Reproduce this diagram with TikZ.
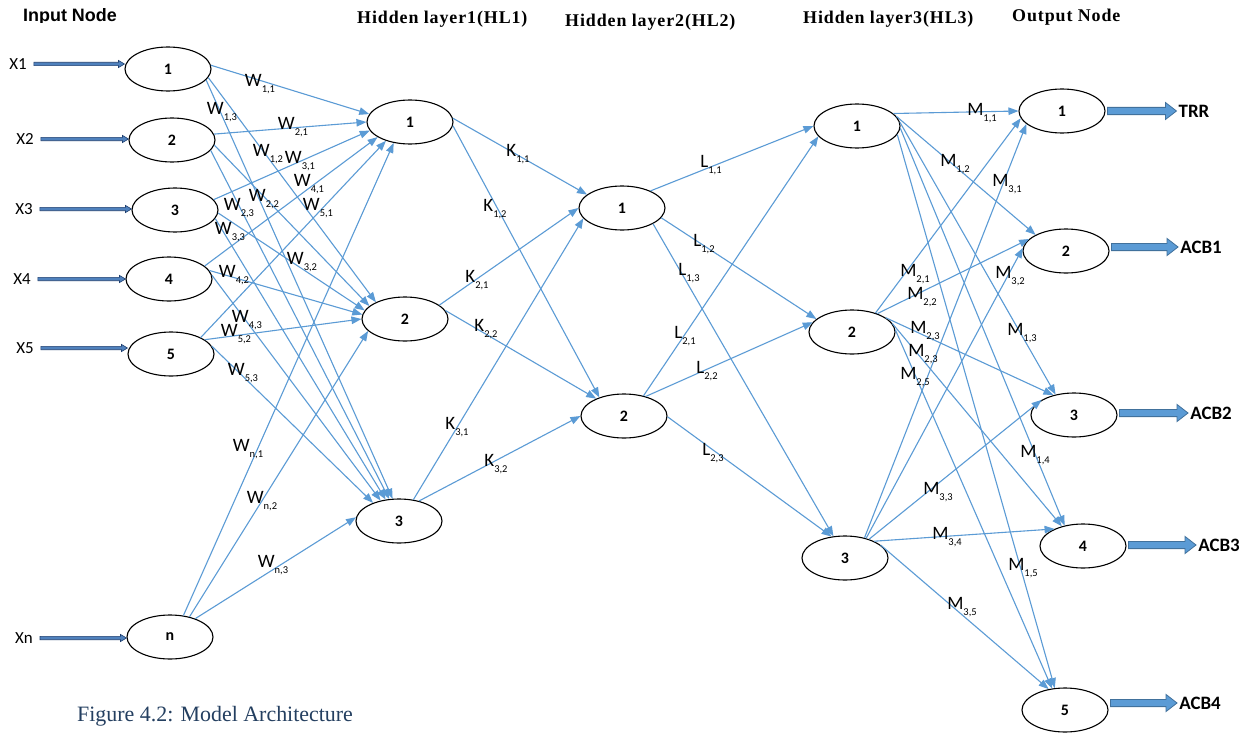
\documentclass[tikz,border=0pt]{standalone}
\usepackage{fontspec}
\setmainfont{Liberation Serif}
\newfontfamily\calfont{Carlito}
\newfontfamily\arialfont{Liberation Sans}
\newfontfamily\titlefont[LetterSpace=5]{Liberation Serif}
\usetikzlibrary{arrows.meta,shapes.geometric,calc}
\definecolor{lineblue}{HTML}{5B9BD5}
\definecolor{outedge}{HTML}{41719C}
\definecolor{infill}{HTML}{4F81BD}
\definecolor{inedge}{HTML}{1F3F6F}
\definecolor{capcol}{HTML}{243F60}
\newcommand\wl[2]{{\calfont\fontsize{19}{19}\selectfont #1\raisebox{-6bp}{\fontsize{10.5}{10.5}\selectfont #2}}}
\newcommand\blockarr[6]{%
  \filldraw[#1] ($(#2)+(0,#4)$) -- ($(#3)+(-#6,#4)$) -- ($(#3)+(-#6,#5)$) -- (#3)
    -- ($(#3)+(-#6,-#5)$) -- ($(#3)+(-#6,-#4)$) -- ($(#2)+(0,-#4)$) -- cycle;}
\tikzset{
  neuron/.style={ellipse, draw=black, line width=1.1bp, minimum width=86bp, minimum height=44bp,
    inner sep=0pt, font=\calfont\bfseries\fontsize{16}{16}\selectfont},
  con/.style={draw=lineblue, line width=1.1bp, -{Triangle[length=10bp,width=7.5bp]}},
  lbl/.style={inner sep=0pt, text=black},
  xlbl/.style={inner sep=0pt, font=\calfont\fontsize{17}{17}\selectfont},
  outlbl/.style={inner sep=0pt, font=\calfont\bfseries\fontsize{19}{19}\selectfont},
  title/.style={inner sep=0pt, anchor=base west, font=\titlefont\bfseries\fontsize{18}{18}\selectfont},
  inarr/.style={fill=infill, draw=inedge, line width=0.6bp},
  outarr/.style={fill=lineblue, draw=outedge, line width=0.8bp}
}
\begin{document}
\begin{tikzpicture}[x=1bp, y=-1bp]
\useasboundingbox (0,0) rectangle (1244,737);
\fill[white] (0,0) rectangle (1244,737);

% titles
\begin{scope}
  \clip (0,0) rectangle (200,22.3);
  \node[title, font=\arialfont\bfseries\fontsize{18}{18}\selectfont] (tin) at (23,22) {Input Node};
\end{scope}
\node[title] (thl1) at (357,24) {Hidden layer1(HL1)};
\node[title] (thl2) at (565,27) {Hidden layer2(HL2)};
\node[title] (thl3) at (803,24) {Hidden layer3(HL3)};
\node[title] (tout) at (1012,22) {Output Node};
\node[inner sep=0pt, anchor=base west, text=capcol, font=\fontsize{22}{22}\selectfont] (cap) at (77,721) {Figure 4.2: Model Architecture};

% neurons
\node[neuron] (i1) at (168,69) {1};
\node[neuron] (i2) at (172,140) {2};
\node[neuron] (i3) at (175,210) {3};
\node[neuron] (i4) at (169,279) {4};
\node[neuron] (i5) at (171,354) {5};
\node[neuron] (in) at (170,637) {n};
\node[neuron] (h1a) at (410,122) {1};
\node[neuron] (h1b) at (405,319) {2};
\node[neuron] (h1c) at (399,521) {3};
\node[neuron] (h2a) at (622,208) {1};
\node[neuron] (h2b) at (624,416) {2};
\node[neuron] (h3a) at (857,126) {1};
\node[neuron] (h3b) at (852,332) {2};
\node[neuron] (h3c) at (845,558) {3};
\node[neuron] (o1) at (1062,111) {1};
\node[neuron] (o2) at (1066,251) {2};
\node[neuron] (o3) at (1074,415) {3};
\node[neuron] (o4) at (1083,546) {4};
\node[neuron] (o5) at (1065,710) {5};

% input labels and arrows
\node[xlbl] (x1) at (18,64) {X1};
\node[xlbl] (x2) at (25,139) {X2};
\node[xlbl] (x3) at (24,209) {X3};
\node[xlbl] (x4) at (22,279) {X4};
\node[xlbl] (x5) at (25,348) {X5};
\node[xlbl] (xn) at (24,638) {Xn};
\foreach \a/\b in {x1/i1,x2/i2,x3/i3,x4/i4,x5/i5,xn/in}{
  \coordinate (\a s) at ($(\a.east)+(7,0)$);
  \coordinate (\a e) at (\b.west |- \a.east);
  \blockarr{inarr}{\a s}{\a e}{1.7}{3.6}{6}
}

% output labels and arrows
\node[outlbl] (trr) at (1194,111) {TRR};
\node[outlbl] (acb1) at (1201,247) {ACB1};
\node[outlbl] (acb2) at (1211,413) {ACB2};
\node[outlbl] (acb3) at (1219,545) {ACB3};
\node[outlbl] (acb4) at (1200,703) {ACB4};
\foreach \a/\b in {o1/trr,o2/acb1,o3/acb2,o4/acb3,o5/acb4}{
  \coordinate (\b s) at ($(\a.east |- \b.west)+(2,0)$);
  \coordinate (\b e) at ($(\b.west)+(-2,0)$);
  \blockarr{outarr}{\b s}{\b e}{3.6}{8.5}{11}
}

% input -> HL1
\draw[con] (i1.5) -- (h1a.169);
\draw[con] (i1.-12) -- (h1b.150);
\draw[con] (i1.-16) -- (h1c.106);
\draw[con] (i2.8) -- (h1a.180);
\draw[con] (i2.-7) -- (h1b.160);
\draw[con] (i2.-15) -- (h1c.114);
\draw[con] (i3.15) -- (h1a.192);
\draw[con] (i3.-4) -- (h1b.168);
\draw[con] (i3.-12) -- (h1c.122);
\draw[con] (i4.20) -- (h1a.205);
\draw[con] (i4.12) -- (h1b.174);
\draw[con] (i4.5) -- (h1c.132);
\draw[con] (i5.29) -- (h1a.218);
\draw[con] (i5.23) -- (h1b.180);
\draw[con] (i5.11) -- (h1c.145);
\draw[con] (in.58) -- (h1a.232);
\draw[con] (in.46) -- (h1b.198);
\draw[con] (in.36) -- (h1c.175);

% HL1 -> HL2
\draw[con] (h1a.5) -- (h2a.159);
\draw[con] (h1a.-5) -- (h2b.143);
\draw[con] (h1b.22) -- (h2a.180);
\draw[con] (h1b.12) -- (h2b.148);
\draw[con] (h1c.56) -- (h2a.195);
\draw[con] (h1c.45) -- (h2b.180);

% HL2 -> HL3
\draw[con] (h2a.31) -- (h3a.180);
\draw[con] (h2a.-14) -- (h3b.160);
\draw[con] (h2a.-27) -- (h3c.118);
\draw[con] (h2b.46) -- (h3a.195);
\draw[con] (h2b.42) -- (h3b.166);
\draw[con] (h2b.-1) -- (h3c.122);

% HL3 -> output
\draw[con] (h3a.19) -- (o1.180);
\draw[con] (h3a.14) -- (o2.152);
\draw[con] (h3a.5) -- (o3.132);
\draw[con] (h3a.-3) -- (o4.132);
\draw[con] (h3a.-12) -- (o5.115);
\draw[con] (h3b.39) -- (o1.190);
\draw[con] (h3b.36) -- (o2.162);
\draw[con] (h3b.23) -- (o3.136);
\draw[con] (h3b.12) -- (o4.137);
\draw[con] (h3b.3) -- (o5.121);
\draw[con] (h3c.46) -- (o1.200);
\draw[con] (h3c.43) -- (o2.176);
\draw[con] (h3c.38) -- (o3.155);
\draw[con] (h3c.30) -- (o4.149);
\draw[con] (h3c.20) -- (o5.128);

% weight labels
\node[lbl] (w11) at (260,84) {\wl{W}{1,1}};
\node[lbl] (w13) at (222,112) {\wl{W}{1,3}};
\node[lbl] (w21) at (293,127) {\wl{W}{2,1}};
\node[lbl] (w12) at (268,154) {\wl{W}{1,2}};
\node[lbl] (w31) at (300,161) {\wl{W}{3,1}};
\node[lbl] (w41) at (309,184) {\wl{W}{4,1}};
\node[lbl] (w22) at (264,199) {\wl{W}{2,2}};
\node[lbl] (w51) at (318,208) {\wl{W}{5,1}};
\node[lbl] (w23) at (239,208) {\wl{W}{2,3}};
\node[lbl] (w33) at (230,232) {\wl{W}{3,3}};
\node[lbl] (w32) at (302,262) {\wl{W}{3,2}};
\node[lbl] (w42) at (234,275) {\wl{W}{4,2}};
\node[lbl] (w43) at (247,320) {\wl{W}{4,3}};
\node[lbl] (w52) at (236,334) {\wl{W}{5,2}};
\node[lbl] (w53) at (243,373) {\wl{W}{5,3}};
\node[lbl] (wn1) at (248,449) {\wl{W}{n,1}};
\node[lbl] (wn2) at (262,501) {\wl{W}{n,2}};
\node[lbl] (wn3) at (273,565) {\wl{W}{n,3}};

\node[lbl] (k11) at (518,154) {\wl{K}{1,1}};
\node[lbl] (k12) at (495,209) {\wl{K}{1,2}};
\node[lbl] (k21) at (477,280) {\wl{K}{2,1}};
\node[lbl] (k22) at (486,329) {\wl{K}{2,2}};
\node[lbl] (k31) at (457,427) {\wl{K}{3,1}};
\node[lbl] (k32) at (496,464) {\wl{K}{3,2}};

\node[lbl] (l11) at (711,165) {\wl{L}{1,1}};
\node[lbl] (l12) at (704,244) {\wl{L}{1,2}};
\node[lbl] (l13) at (689,273) {\wl{L}{1,3}};
\node[lbl] (l21) at (685,336) {\wl{L}{2,1}};
\node[lbl] (l22) at (707,371) {\wl{L}{2,2}};
\node[lbl] (l23) at (713,453) {\wl{L}{2,3}};

\node[lbl] (m11) at (982,113) {\wl{M}{1,1}};
\node[lbl] (m12) at (955,164) {\wl{M}{1,2}};
\node[lbl] (m31) at (1007,184) {\wl{M}{3,1}};
\node[lbl] (m32) at (1010,276) {\wl{M}{3,2}};
\node[lbl] (m21) at (915,274) {\wl{M}{2,1}};
\node[lbl] (m22) at (922,297) {\wl{M}{2,2}};
\node[lbl] (m23) at (925,331) {\wl{M}{2,3}};
\node[lbl] (m23b) at (923,354) {\wl{M}{2,3}};
\node[lbl] (m25) at (915,377) {\wl{M}{2,5}};
\node[lbl] (m13) at (1022,333) {\wl{M}{1,3}};
\node[lbl] (m14) at (1035,455) {\wl{M}{1,4}};
\node[lbl] (m33) at (938,492) {\wl{M}{3,3}};
\node[lbl] (m34) at (947,537) {\wl{M}{3,4}};
\node[lbl] (m15) at (1023,568) {\wl{M}{1,5}};
\node[lbl] (m35) at (962,607) {\wl{M}{3,5}};
\end{tikzpicture}
\end{document}
